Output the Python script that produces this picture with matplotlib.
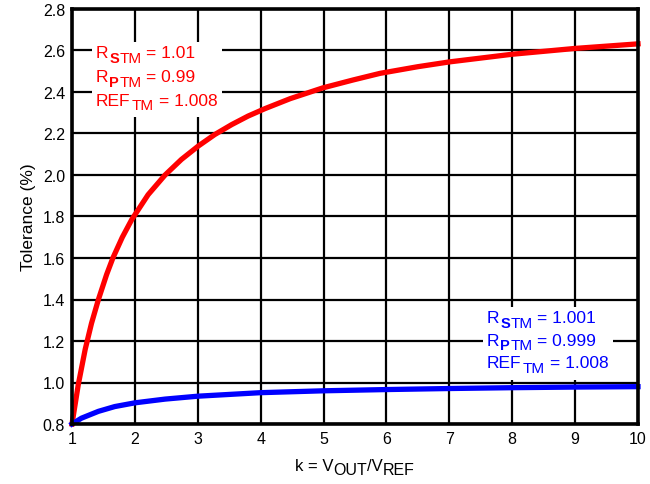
import matplotlib
matplotlib.use("Agg")
import matplotlib.pyplot as plt
from matplotlib.transforms import offset_copy, Bbox, IdentityTransform
from matplotlib.patches import Rectangle

plt.rcParams["font.family"] = ["Liberation Sans", "DejaVu Sans"]

# valores (k, tolerância em %)
k_red = [1.0, 1.1, 1.21, 1.31, 1.42, 1.55, 1.65, 1.8, 1.95, 2.21, 2.48, 2.74, 3.01, 3.27,
         3.54, 3.80, 4.07, 4.47, 4.99, 5.47, 5.90, 6.5, 7.0, 8.0, 9.0, 10.0]
tol_red = [0.80, 0.99, 1.16, 1.285, 1.40, 1.52, 1.60, 1.70, 1.785, 1.905, 2.0, 2.075, 2.14, 2.195,
           2.243, 2.284, 2.32, 2.368, 2.42, 2.458, 2.49, 2.522, 2.545, 2.582, 2.610, 2.632]

k_blue = [1.0, 1.15, 1.42, 1.68, 2.0, 2.48, 3.0, 4.0, 5.0, 6.0, 7.0, 8.0, 9.0, 10.0]
tol_blue = [0.80, 0.828, 0.861, 0.884, 0.902, 0.92, 0.934, 0.951, 0.96, 0.966, 0.971, 0.975, 0.978, 0.98]

x_ticks = list(range(1, 11))
y_ticks = [0.8, 1.0, 1.2, 1.4, 1.6, 1.8, 2.0, 2.2, 2.4, 2.6, 2.8]

red_values = ["1.01", "0.99", "1.008"]
blue_values = ["1.001", "0.999", "1.008"]

fig = plt.figure(figsize=(6.5, 4.85), dpi=100)
ax = fig.add_axes([72 / 650, 1 - 425 / 485, 566 / 650, 415 / 485])
renderer = fig.canvas.get_renderer()


def texto_encadeado(x, y, pecas, cor, centro=False):
    # pecas: (texto, tamanho, peso, deslocamento vertical em px, espaço antes em px)
    larguras = []
    for s, tam, peso, dy, gap in pecas:
        t = fig.text(0, 0, s, fontsize=tam, fontweight=peso)
        larguras.append(t.get_window_extent(renderer).width + gap)
        t.remove()
    dx = -sum(larguras) / 2 if centro else 0
    artistas = []
    for (s, tam, peso, dy, gap), w in zip(pecas, larguras):
        tr = offset_copy(ax.transAxes, fig=fig, x=dx + gap, y=dy, units="dots")
        artistas.append(ax.text(x, y, s, transform=tr, fontsize=tam, fontweight=peso,
                                color=cor, ha="left", va="baseline", clip_on=False, zorder=3))
        dx += w
    return artistas


def bloco_legenda(x, y, valores, cor, passo):
    nomes = [("R", "S"), ("R", "P"), ("REF", None)]
    artistas = []
    for i, ((base, negrito), val) in enumerate(zip(nomes, valores)):
        pecas = [(base, 12.5, "normal", 0, 0)]
        if negrito:
            pecas.append((negrito, 10.5, "bold", -4.5, 1))
        pecas.append(("TM", 11, "normal", -4.5, 0 if negrito else 1))
        pecas.append(("= " + val, 12.5, "normal", 0, 5))
        artistas += texto_encadeado(x, y - i * passo / 415, pecas, cor)
    caixa = Bbox.union([a.get_window_extent(renderer) for a in artistas])
    ax.add_patch(Rectangle((caixa.x0 - 4, caixa.y0 - 5), caixa.width + 9, caixa.height + 8,
                           transform=IdentityTransform(), facecolor="white",
                           edgecolor="none", zorder=2))


ax.plot(k_red, tol_red, color="#FF0000", lw=3.8, solid_joinstyle="round", clip_on=False, zorder=4)
ax.plot(k_blue, tol_blue, color="#0000FF", lw=3.8, solid_joinstyle="round", clip_on=False, zorder=4)

ax.set_xlim(1, 10)
ax.set_ylim(0.8, 2.8)
ax.set_xticks(x_ticks)
ax.set_yticks(y_ticks)
ax.set_yticklabels([f"{v:.1f}" for v in y_ticks])
ax.tick_params(length=0, labelsize=11.5, pad=5, colors="black")
ax.grid(True, color="black", lw=1.6)
ax.set_axisbelow(True)
for s in ax.spines.values():
    s.set_linewidth(2.6)
    s.set_zorder(5)

ax.set_ylabel("Tolerance (%)", fontsize=12.5, labelpad=5)

# rótulo do eixo x com subscritos grandes
texto_encadeado(0.5, -0.111, [("k = V", 12, "normal", 0, 0),
                              ("OUT", 11.5, "normal", -4, 0),
                              ("/V", 12, "normal", 0, 0),
                              ("REF", 11.5, "normal", -4, 0)], "black", centro=True)

bloco_legenda(0.0424, 0.8836, red_values, "#FF0000", 23.8)
bloco_legenda(0.733, 0.245, blue_values, "#0000FF", 22.5)

fig.savefig("out.png", dpi=100)
